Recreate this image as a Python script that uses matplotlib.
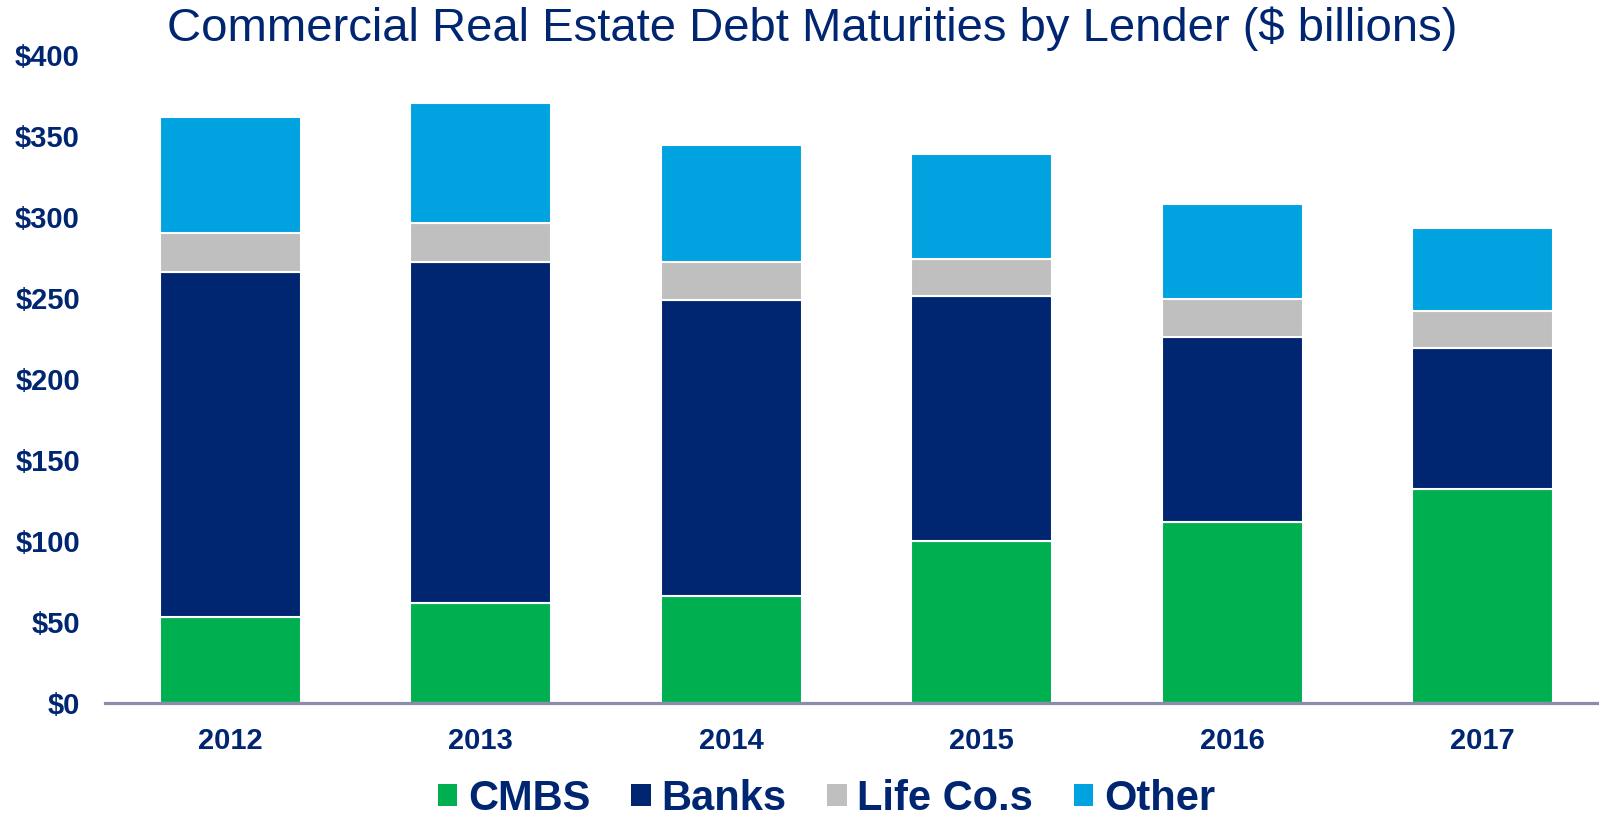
import matplotlib.pyplot as plt
from matplotlib.patches import Patch
import numpy as np

years = ['2012', '2013', '2014', '2015', '2016', '2017']
cmbs = [53, 62, 66, 100, 112, 132]
banks = [213, 210, 183, 151, 114, 87]
life_cos = [24, 24.5, 23.5, 23, 23.5, 23]
other = [72, 74, 72, 65, 58.5, 51]

series_names = ['CMBS', 'Banks', 'Life Co.s', 'Other']
colors = ['#00B050', '#002672', '#BFBFBF', '#00A3E0']
navy = '#002672'

plt.rcParams['font.family'] = ['Liberation Sans', 'DejaVu Sans']

fig = plt.figure(figsize=(15.99, 8.22), dpi=100)
ax = fig.add_axes([105/1599, 1 - 703/822, (1608 - 105)/1599, 648/822])

x = np.arange(len(years))
bottom = np.zeros(len(years))
for vals, c in zip([cmbs, banks, life_cos, other], colors):
    ax.bar(x, vals, width=0.563, bottom=bottom, color=c,
           edgecolor='white', linewidth=1.5, zorder=2)
    bottom += np.array(vals)

ax.set_xlim(-0.5, 5.5)
ax.set_ylim(0, 400)
ax.set_yticks(range(0, 401, 50))
ax.set_yticklabels(['$' + str(v) for v in range(0, 401, 50)])
ax.set_xticks(x)
ax.set_xticklabels(years)
ax.tick_params(axis='y', length=0, pad=18, labelsize=21, labelcolor=navy)
ax.tick_params(axis='x', length=0, pad=17, labelsize=21, labelcolor=navy)
for lab in ax.get_xticklabels() + ax.get_yticklabels():
    lab.set_fontweight('bold')

for s in ['top', 'right', 'left']:
    ax.spines[s].set_visible(False)
ax.spines['bottom'].set_color('#8A8CAA')
ax.spines['bottom'].set_linewidth(2.3)
ax.spines['bottom'].set_zorder(3)

fig.text(0.508, 1 - 29/822, 'Commercial Real Estate Debt Maturities by Lender ($ billions)',
         ha='center', va='center', fontsize=34, color=navy)

handles = [Patch(facecolor=c, edgecolor='none') for c in colors]
fig.legend(handles, series_names, loc='center', bbox_to_anchor=(0.517, 1 - 799/822),
           ncol=4, frameon=False, handlelength=0.46, handleheight=0.45,
           handletextpad=0.26, columnspacing=0.98, borderpad=0,
           prop={'weight': 'bold', 'size': 30},
           labelcolor=navy)

fig.savefig('out.png', dpi=100)
